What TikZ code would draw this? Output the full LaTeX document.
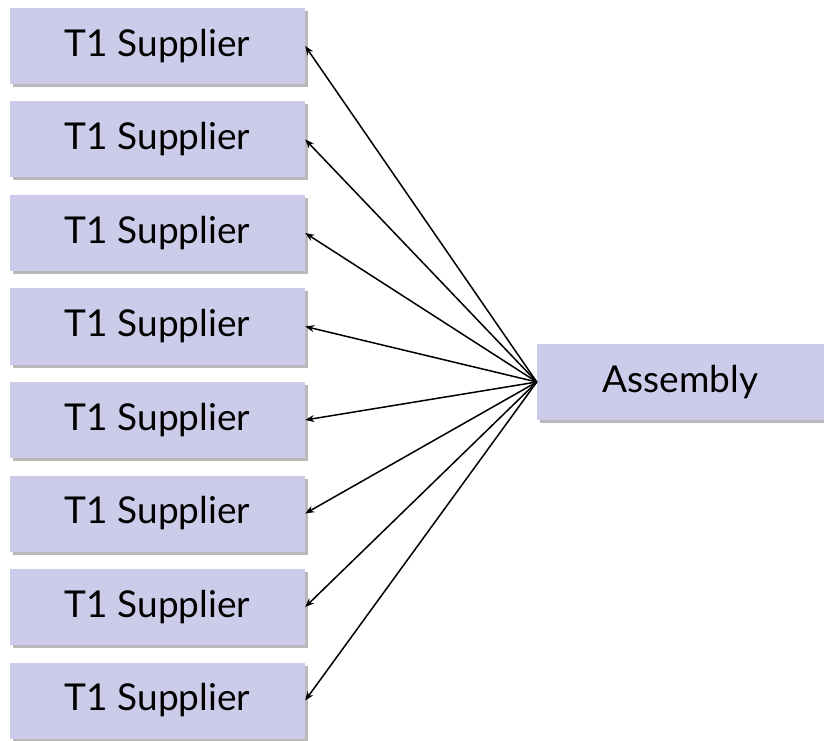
\documentclass[tikz,border=0pt]{standalone}
\usepackage{fontspec}
\setmainfont{Lato}
\usetikzlibrary{arrows.meta,shadows}
\definecolor{boxfill}{RGB}{204,204,234}
\begin{document}
\begin{tikzpicture}[x=1pt,y=1pt,
  supbox/.style={rectangle, fill=boxfill, minimum width=295pt, minimum height=76pt, inner sep=0pt,
    font=\fontsize{37}{40}\selectfont, drop shadow={shadow xshift=3pt, shadow yshift=-3pt, fill=black!50, opacity=0.55}},
  link/.style={line width=1.5pt, -{Stealth[length=9pt,width=7pt]}}]
\useasboundingbox (0,0) rectangle (824,740);
\foreach \i in {1,...,8}{
  \node[supbox] (s\i) at (157.5, {740-46-93.5*(\i-1)}) {T1 Supplier};
}
\node[supbox, minimum width=287pt] (a) at (680.5, 358) {Assembly};
\foreach \i in {1,...,8}{
  \draw[link] (a.west) -- (s\i.east);
}
\end{tikzpicture}
\end{document}
